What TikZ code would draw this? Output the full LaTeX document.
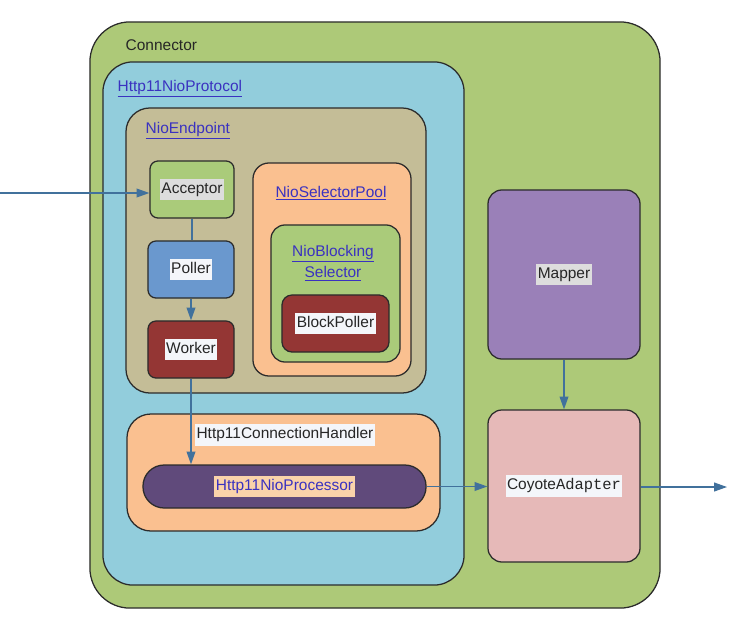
\documentclass[tikz,border=0pt]{standalone}
\usepackage{fontspec}
\setmainfont{Liberation Sans}
\setmonofont{Liberation Mono}
\usepackage{tikz}
\usetikzlibrary{arrows.meta,positioning}
\usepackage{xcolor}
\definecolor{connfill}{HTML}{ADC978}
\definecolor{protfill}{HTML}{92CDDC}
\definecolor{endfill}{HTML}{C4BD97}
\definecolor{accfill}{HTML}{AACB7A}
\definecolor{pollfill}{HTML}{6A98CE}
\definecolor{workfill}{HTML}{943634}
\definecolor{poolfill}{HTML}{FAC090}
\definecolor{procfill}{HTML}{604A7B}
\definecolor{mapfill}{HTML}{9A80B8}
\definecolor{coyfill}{HTML}{E6B9B8}
\definecolor{edge}{HTML}{2B2B2B}
\definecolor{arrowc}{HTML}{41719C}
\definecolor{linkblue}{HTML}{3A32C0}
\definecolor{hlgray}{HTML}{DDDDDD}
\definecolor{hlwhite}{HTML}{F4F6FA}
\definecolor{hlpeach}{HTML}{FAD3AA}
\newcommand{\hlbox}[2]{{\setlength\fboxsep{1pt}\colorbox{#1}{\strut #2}}}
\newcommand{\link}[1]{\textcolor{linkblue}{\underline{#1}}}

\begin{document}
\begin{tikzpicture}[
  x=0.025cm, y=-0.025cm,
  font=\fontsize{11}{13}\selectfont, text=black!85,
  box/.style={draw=edge, line width=0.9pt, inner sep=0pt},
  title/.style={inner sep=1pt, anchor=west},
  flow/.style={-{Triangle[length=3.2mm,width=2.2mm]}, line width=0.9pt, draw=arrowc},
]
\useasboundingbox (0,0) rectangle (734,624);

% outer containers
\node[box, fill=connfill, rounded corners=1cm, minimum width=14.25cm,
      minimum height=14.65cm] (connector) at (375,315) {};
\node[title] (connlbl) at (124,45) {Connector};

\node[box, fill=protfill, rounded corners=0.75cm, minimum width=9.025cm,
      minimum height=13.075cm] (protocol) at (283.5,323.5) {};
\node[title] (protlbl) at (116,89) {\link{Http11NioProtocol}};

\node[box, fill=endfill, rounded corners=0.6cm, minimum width=7.5cm,
      minimum height=7.125cm] (endpoint) at (276,250.5) {};
\node[title] (endlbl) at (144,131) {\link{NioEndpoint}};

% endpoint parts
\node[box, fill=accfill, rounded corners=0.2cm, minimum width=2.1cm,
      minimum height=1.425cm] (acceptor) at (192,189.5) {\hlbox{hlgray}{Acceptor}};
\node[box, fill=pollfill, rounded corners=0.2cm, minimum width=2.15cm,
      minimum height=1.425cm] (poller) at (191,269.5) {\hlbox{hlwhite}{Poller}};
\node[box, fill=workfill, rounded corners=0.2cm, minimum width=2.15cm,
      minimum height=1.425cm] (worker) at (191,349.5) {\hlbox{hlwhite}{Worker}};

\node[box, fill=poolfill, rounded corners=0.4cm, minimum width=3.95cm,
      minimum height=5.325cm] (pool) at (332,269.5) {};
\node[inner sep=1pt] (poollbl) at (331,193) {\link{NioSelectorPool}};

\node[box, fill=accfill, rounded corners=0.35cm, minimum width=3.225cm,
      minimum height=3.425cm] (selector) at (335.5,293.5) {};
\node[inner sep=1pt, align=center] (sellbl) at (333,263)
      {\link{NioBlocking}\\[2pt]\link{Selector}};

\node[box, fill=workfill, rounded corners=0.25cm, minimum width=2.675cm,
      minimum height=1.425cm] (blockpoller) at (335.5,323.5) {\hlbox{hlwhite}{BlockPoller}};

% connection handler
\node[box, fill=poolfill, rounded corners=0.6cm, minimum width=7.825cm,
      minimum height=2.925cm] (handler) at (283.5,472.5) {};
\node[inner sep=1pt] (handlbl) at (285,435) {\hlbox{hlwhite}{Http11ConnectionHandler}};

\node[box, fill=procfill, rounded corners=0.53cm, minimum width=7.075cm,
      minimum height=1.075cm] (processor) at (284.5,486.5)
      {\hlbox{hlpeach}{\textcolor{linkblue}{Http11NioProcessor}}};

% right column
\node[box, fill=mapfill, rounded corners=0.35cm, minimum width=3.8cm,
      minimum height=4.225cm] (mapper) at (564,274.5) {\hlbox{hlgray}{Mapper}};
\node[box, fill=coyfill, rounded corners=0.35cm, minimum width=3.8cm,
      minimum height=3.8cm] (coyote) at (564,486)
      {\hlbox{hlwhite}{Coyote\texttt{Adapter}}};

% connectors
\coordinate (in) at (0,193);
\coordinate (out) at (727,487);
\draw[flow] (in) -- (in -| acceptor.west);
\draw[line width=0.9pt, draw=arrowc] (acceptor.south) -- (acceptor.south |- poller.north);
\draw[flow] (poller.south) -- (worker.north);
\draw[flow] (worker.south) -- (worker.south |- processor.north);
\draw[flow] (processor.east) -- (processor.east -| coyote.west);
\draw[flow] (mapper.south) -- (coyote.north);
\draw[flow] (coyote.east |- out) -- (out);

\end{tikzpicture}
\end{document}
